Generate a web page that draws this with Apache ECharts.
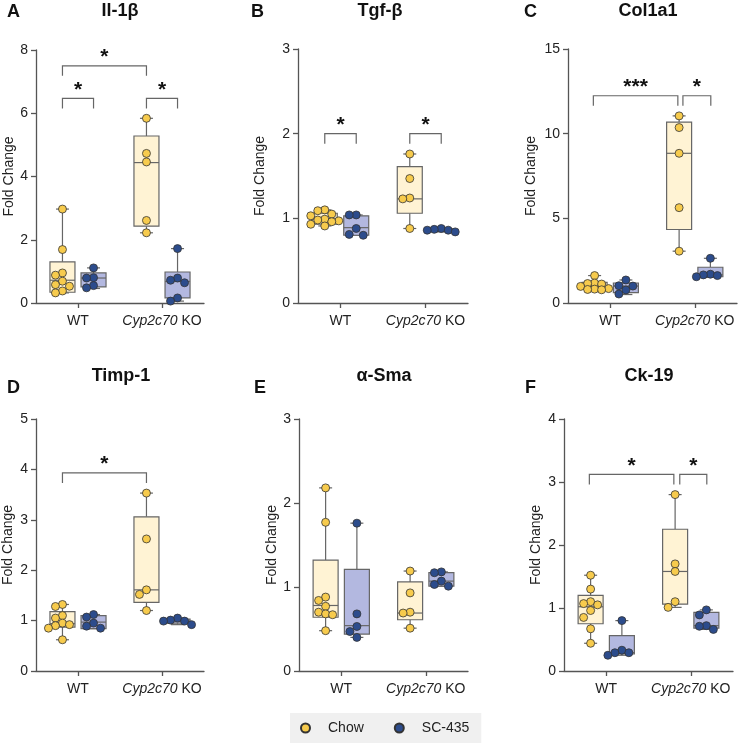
<!DOCTYPE html>
<html lang="en">
<head>
  <meta charset="utf-8">
  <title>Fold change panels</title>
  <script src="https://cdn.jsdelivr.net/npm/echarts@6/dist/echarts.min.js"></script>
  <style>
    html, body { margin: 0; padding: 0; background: #fff; }
    #chart1 { width: 738px; height: 747px; }
  </style>
</head>
<body>
<div id="chart1"></div>
<script>
  // ---- data ----
  var groups = ['WT', 'Cyp2c70 KO'];
  var diets = ['Chow', 'SC-435'];
  var titles = ['Il-1β', 'Tgf-β', 'Col1a1', 'Timp-1', 'α-Sma', 'Ck-19'];
  var letters = ['A', 'B', 'C', 'D', 'E', 'F'];
  var yMax = [8, 3, 15, 5, 3, 4];
  var yStep = [2, 1, 5, 1, 1, 1];

  // points per panel: [WT chow, WT SC-435, KO chow, KO SC-435]
  var pointsA = [[2.97, 1.69, 0.95, 0.88, 0.69, 0.58, 0.53, 0.38, 0.32], [1.11, 0.80, 0.79, 0.55, 0.48], [5.84, 4.73, 4.46, 2.61, 2.22], [1.72, 0.79, 0.72, 0.64, 0.16, 0.06]];
  var pointsB = [[1.10, 1.09, 1.05, 1.03, 0.99, 0.98, 0.97, 0.96, 0.93, 0.91], [1.04, 1.04, 0.88, 0.80, 0.81], [1.76, 1.47, 1.24, 1.23, 0.88], [0.88, 0.87, 0.86, 0.86, 0.84]];
  var pointsC = [[1.62, 1.18, 1.15, 1.12, 0.98, 0.85, 0.82, 0.80, 0.78], [1.36, 1.02, 1.00, 0.77, 0.53], [11.05, 10.36, 8.84, 5.63, 3.06], [2.64, 1.70, 1.66, 1.62, 1.55]];
  var pointsD = [[1.32, 1.28, 1.10, 1.05, 0.95, 0.92, 0.90, 0.85, 0.62], [1.12, 1.07, 0.95, 0.89, 0.85], [3.53, 2.62, 1.61, 1.52, 1.20], [1.05, 1.01, 0.99, 0.99, 0.92]];
  var pointsE = [[2.18, 1.77, 0.88, 0.84, 0.77, 0.70, 0.68, 0.67, 0.48], [1.76, 0.68, 0.53, 0.47, 0.40], [1.19, 0.93, 0.70, 0.69, 0.51], [1.18, 1.17, 1.07, 1.03, 1.01]];
  var pointsF = [[1.52, 1.30, 1.10, 1.07, 1.05, 0.96, 0.85, 0.67, 0.44], [0.80, 0.33, 0.29, 0.29, 0.25], [2.80, 1.70, 1.58, 1.10, 1.01], [0.97, 0.89, 0.72, 0.71, 0.66]];

  // boxes per panel: [min, q1, median, q3, max]
  var boxesA = [[0.32, 0.34, 0.72, 1.30, 2.97], [0.46, 0.51, 0.79, 0.95, 1.11], [2.22, 2.43, 4.44, 5.28, 5.84], [0.06, 0.16, 0.68, 0.98, 1.72]];
  var boxesB = [[0.91, 0.93, 0.99, 1.06, 1.10], [0.80, 0.80, 0.89, 1.03, 1.04], [0.88, 1.06, 1.23, 1.61, 1.76], [0.84, 0.85, 0.86, 0.875, 0.88]];
  var boxesC = [[0.78, 0.80, 0.98, 1.22, 1.62], [0.50, 0.61, 1.00, 1.18, 1.36], [3.06, 4.34, 8.84, 10.68, 11.05], [1.52, 1.55, 1.66, 2.11, 2.64]];
  var boxesD = [[0.62, 0.87, 0.94, 1.18, 1.32], [0.84, 0.84, 0.97, 1.10, 1.12], [1.20, 1.36, 1.61, 3.06, 3.53], [0.92, 0.95, 0.99, 1.03, 1.05]];
  var boxesE = [[0.48, 0.64, 0.78, 1.32, 2.18], [0.40, 0.44, 0.54, 1.21, 1.76], [0.51, 0.61, 0.69, 1.06, 1.19], [1.01, 1.01, 1.07, 1.17, 1.18]];
  var boxesF = [[0.44, 0.75, 1.02, 1.20, 1.52], [0.25, 0.27, 0.29, 0.56, 0.80], [1.01, 1.06, 1.58, 2.25, 2.80], [0.66, 0.68, 0.72, 0.93, 0.97]];

  // significance brackets: [x from, x to, y, label]
  var sigA = [[0.63, 2.63, 7.5, '*'], [0.63, 1.37, 6.47, '*'], [2.63, 3.37, 6.47, '*']];
  var sigB = [[0.63, 1.37, 2.0, '*'], [2.63, 3.37, 2.0, '*']];
  var sigC = [[0.6, 2.6, 12.24, '***'], [2.72, 3.38, 12.24, '*']];
  var sigD = [[0.63, 2.63, 3.93, '*']];
  var sigE = [];
  var sigF = [[0.6, 2.6, 3.12, '*'], [2.74, 3.38, 3.12, '*']];

  var allPoints = [pointsA, pointsB, pointsC, pointsD, pointsE, pointsF];
  var allBoxes = [boxesA, boxesB, boxesC, boxesD, boxesE, boxesF];
  var allSig = [sigA, sigB, sigC, sigD, sigE, sigF];

  // ---- layout ----
  var grids = [
    {left: 36, top: 50, width: 168, height: 253},
    {left: 298, top: 49, width: 170, height: 254},
    {left: 568, top: 49, width: 169, height: 254},
    {left: 36, top: 419, width: 168, height: 252},
    {left: 299, top: 419, width: 169, height: 252},
    {left: 564, top: 419, width: 169, height: 252}
  ];
  var nameGaps = [20, 31, 30, 21, 20, 21];
  var titlePos = [[120, 2], [380, 2], [648, 2], [121, 367], [384, 367], [649, 367]];
  var letterPos = [[7, 3], [251, 3], [524, 3], [7, 379], [254, 379], [525, 379]];
  var slotX = [0.63, 1.37, 2.63, 3.37];

  var FONT = '"Liberation Sans", Arial, Helvetica, sans-serif';
  var pointColor = ['#F7CB4D', '#2C4C8C'];
  var boxFill = ['#FFF3D4', '#B3B8E0'];
  var lineCol = '#666';

  // simple beeswarm: dots that would overlap are pushed sideways (max 2 columns each side)
  function swarm(vals, cx, pxX, pxY) {
    var d = 7, step = 7, maxCol = 2, placed = [], out = [];
    var cols = [0];
    for (var c = 1; c <= maxCol; c++) { cols.push(-c, c); }
    var order = vals.map(function (v, i) { return i; })
      .sort(function (a, b) { return vals[b] - vals[a]; });
    order.forEach(function (i) {
      var y = vals[i] * pxY, best = 0, bestGap = -1;
      for (var k = 0; k < cols.length; k++) {
        var gap = Infinity;
        placed.forEach(function (p) {
          if (p.col === cols[k]) { gap = Math.min(gap, Math.abs(p.y - y)); }
        });
        if (gap >= d) { best = cols[k]; bestGap = gap; break; }
        if (gap > bestGap) { best = cols[k]; bestGap = gap; }
      }
      placed.push({col: best, y: y});
      out[i] = [cx + best * step / pxX, vals[i]];
    });
    return out;
  }

  function renderBox(params, api) {
    var x = api.value(0);
    var pMin = api.coord([x, api.value(1)]);
    var pQ1 = api.coord([x, api.value(2)]);
    var pMed = api.coord([x, api.value(3)]);
    var pQ3 = api.coord([x, api.value(4)]);
    var pMax = api.coord([x, api.value(5)]);
    var cx = pMed[0], hw = 12.5, cw = 6.5;
    var st = {stroke: lineCol, lineWidth: 1.2};
    return {
      type: 'group',
      children: [
        {type: 'line', shape: {x1: cx, y1: pMax[1], x2: cx, y2: pQ3[1]}, style: st},
        {type: 'line', shape: {x1: cx, y1: pQ1[1], x2: cx, y2: pMin[1]}, style: st},
        {type: 'line', shape: {x1: cx - cw, y1: pMax[1], x2: cx + cw, y2: pMax[1]}, style: st},
        {type: 'line', shape: {x1: cx - cw, y1: pMin[1], x2: cx + cw, y2: pMin[1]}, style: st},
        {type: 'rect', shape: {x: cx - hw, y: pQ3[1], width: hw * 2, height: pQ1[1] - pQ3[1]},
          style: {fill: boxFill[params.dataIndex % 2], stroke: lineCol, lineWidth: 1.2}},
        {type: 'line', shape: {x1: cx - hw, y1: pMed[1], x2: cx + hw, y2: pMed[1]}, style: st}
      ]
    };
  }

  function makeSigRenderer(sig) {
    return function (params, api) {
      var a = api.coord([api.value(0), api.value(2)]);
      var b = api.coord([api.value(1), api.value(2)]);
      var leg = 10;
      return {
        type: 'group',
        children: [
          {type: 'polyline', shape: {points: [[a[0], a[1] + leg], [a[0], a[1]], [b[0], b[1]], [b[0], b[1] + leg]]},
            style: {stroke: lineCol, lineWidth: 1.2, fill: null}},
          {type: 'text', x: (a[0] + b[0]) / 2, y: a[1] + 2,
            style: {text: sig[params.dataIndex][3], fontSize: 21, fontWeight: 'bold', fontFamily: FONT,
              fill: '#111', align: 'center', verticalAlign: 'bottom'}}
        ]
      };
    };
  }

  var chart1 = echarts.init(document.getElementById('chart1'));

  var title = [], xAxis = [], yAxis = [], series = [];
  grids.forEach(function (g, p) {
    title.push({text: titles[p], left: titlePos[p][0], top: titlePos[p][1], textAlign: 'center', padding: 0,
      textStyle: {fontSize: 18, fontWeight: 'bold', color: '#111', fontFamily: FONT}});
    title.push({text: letters[p], left: letterPos[p][0], top: letterPos[p][1], padding: 0,
      textStyle: {fontSize: 18, fontWeight: 'bold', color: '#111', fontFamily: FONT}});

    xAxis.push({
      type: 'value', gridIndex: p, min: 0, max: 4,
      splitLine: {show: false},
      axisLine: {lineStyle: {color: '#555', width: 1.3}},
      axisTick: {customValues: [1, 3], length: 5, lineStyle: {color: '#555', width: 1.3}},
      axisLabel: {
        customValues: [1, 3], margin: 11, fontSize: 14, color: '#222', fontFamily: FONT,
        formatter: function (v) {
          var gname = groups[Math.round((v - 1) / 2)];
          var sp = gname.indexOf(' ');
          return sp > 0 ? '{i|' + gname.slice(0, sp) + '}' + gname.slice(sp) : gname;
        },
        rich: {i: {fontStyle: 'italic', fontSize: 14, color: '#222', fontFamily: FONT}}
      }
    });
    yAxis.push({
      type: 'value', gridIndex: p, min: 0, max: yMax[p], interval: yStep[p],
      name: 'Fold Change', nameLocation: 'middle', nameGap: nameGaps[p],
      nameTextStyle: {fontSize: 14, color: '#222', fontFamily: FONT},
      splitLine: {show: false},
      axisLine: {show: true, lineStyle: {color: '#555', width: 1.3}},
      axisTick: {show: true, length: 5, lineStyle: {color: '#555', width: 1.3}},
      axisLabel: {fontSize: 14, color: '#222', margin: 8, fontFamily: FONT}
    });

    var pxX = g.width / 4, pxY = g.height / yMax[p];

    series.push({
      type: 'custom', name: 'box' + p, xAxisIndex: p, yAxisIndex: p, z: 1,
      renderItem: renderBox,
      encode: {x: 0, y: [1, 5]},
      data: allBoxes[p].map(function (b, i) { return [slotX[i]].concat(b); }),
      silent: true
    });

    [0, 1].forEach(function (d) {
      var data = [];
      [d, d + 2].forEach(function (slot) {
        data = data.concat(swarm(allPoints[p][slot], slotX[slot], pxX, pxY));
      });
      series.push({
        type: 'scatter', name: diets[d], xAxisIndex: p, yAxisIndex: p, z: 3,
        symbol: 'circle', symbolSize: 8,
        itemStyle: {color: pointColor[d], borderColor: '#333', borderWidth: 0.8, opacity: 1},
        data: data
      });
    });

    if (allSig[p].length) {
      series.push({
        type: 'custom', name: 'sig' + p, xAxisIndex: p, yAxisIndex: p, z: 2,
        renderItem: makeSigRenderer(allSig[p]),
        encode: {x: [0, 1], y: 2},
        data: allSig[p].map(function (s) { return [s[0], s[1], s[2]]; }),
        silent: true
      });
    }
  });

  var option = {
    animation: false,
    textStyle: {fontFamily: FONT},
    title: title,
    grid: grids,
    xAxis: xAxis,
    yAxis: yAxis,
    legend: {
      data: diets, left: 290, top: 713, icon: 'circle', itemWidth: 9, itemHeight: 9, itemGap: 30,
      padding: [8, 12, 8, 10], backgroundColor: '#f0f0f0', selectedMode: false,
      textStyle: {fontSize: 14, color: '#222', padding: [0, 0, 0, 13], fontFamily: FONT}
    },
    series: series
  };
  chart1.setOption(option);
</script>
</body>
</html>
